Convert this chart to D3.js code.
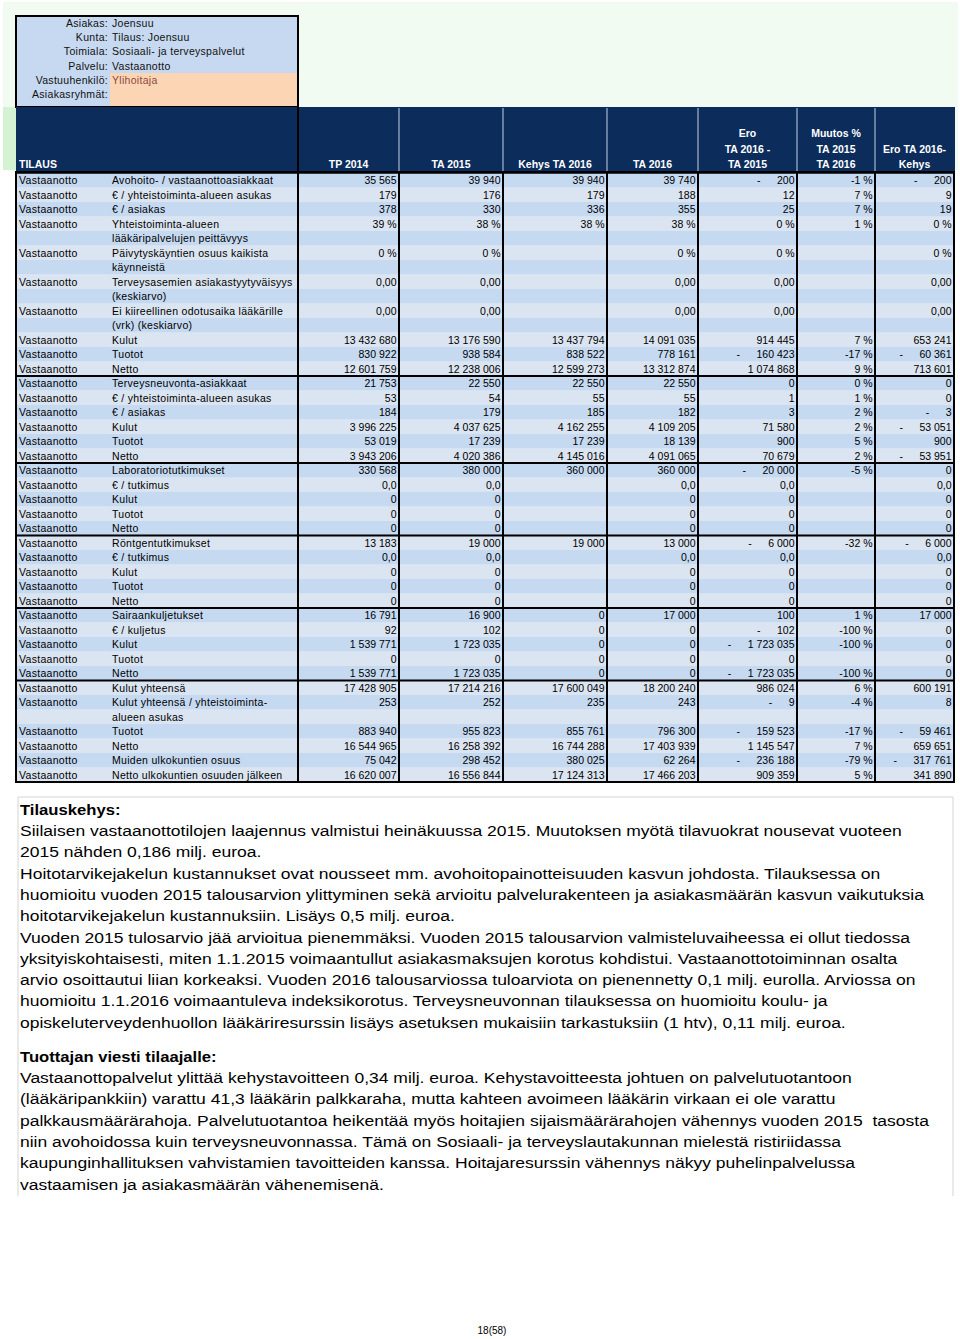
<!DOCTYPE html>
<html><head><meta charset="utf-8">
<script src="https://cdn.jsdelivr.net/npm/d3@7"></script>
<style>
body{margin:0;background:#fff}
svg{display:block}
text{font-family:"Liberation Sans",Arial,Helvetica,sans-serif}
</style>
</head><body>
<svg id="c" width="960" height="1339"></svg>
<script>
// ---------------- DATA ----------------
const infoLabels = ["Asiakas:","Kunta:","Toimiala:","Palvelu:","Vastuuhenkilö:","Asiakasryhmät:"];
const infoValues = ["Joensuu","Tilaus: Joensuu","Sosiaali- ja terveyspalvelut","Vastaanotto","Ylihoitaja",""];

const firstHeader = "TILAUS";
const headerLabels = [["TP 2014"],["TA 2015"],["Kehys TA 2016"],["TA 2016"],
  ["Ero","TA 2016 -","TA 2015"],["Muutos %","TA 2015","TA 2016"],["Ero TA 2016-","Kehys"]];

const unitName = "Vastaanotto";
const categories = [
  ["Avohoito- / vastaanottoasiakkaat"],["€ / yhteistoiminta-alueen asukas"],["€ / asiakas"],
  ["Yhteistoiminta-alueen","lääkäripalvelujen peittävyys"],
  ["Päivytyskäyntien osuus kaikista","käynneistä"],
  ["Terveysasemien asiakastyytyväisyys","(keskiarvo)"],
  ["Ei kiireellinen odotusaika lääkärille","(vrk) (keskiarvo)"],
  ["Kulut"],["Tuotot"],["Netto"],
  ["Terveysneuvonta-asiakkaat"],["€ / yhteistoiminta-alueen asukas"],["€ / asiakas"],["Kulut"],["Tuotot"],["Netto"],
  ["Laboratoriotutkimukset"],["€ / tutkimus"],["Kulut"],["Tuotot"],["Netto"],
  ["Röntgentutkimukset"],["€ / tutkimus"],["Kulut"],["Tuotot"],["Netto"],
  ["Sairaankuljetukset"],["€ / kuljetus"],["Kulut"],["Tuotot"],["Netto"],
  ["Kulut yhteensä"],["Kulut yhteensä / yhteistoiminta-","alueen asukas"],["Tuotot"],["Netto"],
  ["Muiden ulkokuntien osuus"],["Netto ulkokuntien osuuden jälkeen"]
];
const groupStarts = [0,10,16,21,26,31];

const tp2014 = ["35 565","179","378","39 %","0 %","0,00","0,00","13 432 680","830 922","12 601 759",
  "21 753","53","184","3 996 225","53 019","3 943 206",
  "330 568","0,0","0","0","0",
  "13 183","0,0","0","0","0",
  "16 791","92","1 539 771","0","1 539 771",
  "17 428 905","253","883 940","16 544 965","75 042","16 620 007"];
const ta2015 = ["39 940","176","330","38 %","0 %","0,00","0,00","13 176 590","938 584","12 238 006",
  "22 550","54","179","4 037 625","17 239","4 020 386",
  "380 000","0,0","0","0","0",
  "19 000","0,0","0","0","0",
  "16 900","102","1 723 035","0","1 723 035",
  "17 214 216","252","955 823","16 258 392","298 452","16 556 844"];
const kehys2016 = ["39 940","179","336","38 %","","","","13 437 794","838 522","12 599 273",
  "22 550","55","185","4 162 255","17 239","4 145 016",
  "360 000","","","","",
  "19 000","","","","",
  "0","0","0","0","0",
  "17 600 049","235","855 761","16 744 288","380 025","17 124 313"];
const ta2016 = ["39 740","188","355","38 %","0 %","0,00","0,00","14 091 035","778 161","13 312 874",
  "22 550","55","182","4 109 205","18 139","4 091 065",
  "360 000","0,0","0","0","0",
  "13 000","0,0","0","0","0",
  "17 000","0","0","0","0",
  "18 200 240","243","796 300","17 403 939","62 264","17 466 203"];
const ero = ["- 200","12","25","0 %","0 %","0,00","0,00","914 445","- 160 423","1 074 868",
  "0","1","3","71 580","900","70 679",
  "- 20 000","0,0","0","0","0",
  "- 6 000","0,0","0","0","0",
  "100","- 102","- 1 723 035","0","- 1 723 035",
  "986 024","- 9","- 159 523","1 145 547","- 236 188","909 359"];
const muutos = ["-1 %","7 %","7 %","1 %","","","","7 %","-17 %","9 %",
  "0 %","1 %","2 %","2 %","5 %","2 %",
  "-5 %","","","","",
  "-32 %","","","","",
  "1 %","-100 %","-100 %","","-100 %",
  "6 %","-4 %","-17 %","7 %","-79 %","5 %"];
const eroKehys = ["- 200","9","19","0 %","0 %","0,00","0,00","653 241","- 60 361","713 601",
  "0","0","- 3","- 53 051","900","- 53 951",
  "0","0,0","0","0","0",
  "- 6 000","0,0","0","0","0",
  "17 000","0","0","0","0",
  "600 191","8","- 59 461","659 651","- 317 761","341 890"];
const valueColumns = [tp2014, ta2015, kehys2016, ta2016, ero, muutos, eroKehys];

const heading1 = "Tilauskehys:";
const text1 = [
  "Siilaisen vastaanottotilojen laajennus valmistui heinäkuussa 2015. Muutoksen myötä tilavuokrat nousevat vuoteen",
  "2015 nähden 0,186 milj. euroa.",
  "Hoitotarvikejakelun kustannukset ovat nousseet mm. avohoitopainotteisuuden kasvun johdosta. Tilauksessa on",
  "huomioitu vuoden 2015 talousarvion ylittyminen sekä arvioitu palvelurakenteen ja asiakasmäärän kasvun vaikutuksia",
  "hoitotarvikejakelun kustannuksiin. Lisäys 0,5 milj. euroa.",
  "Vuoden 2015 tulosarvio jää arvioitua pienemmäksi. Vuoden 2015 talousarvion valmisteluvaiheessa ei ollut tiedossa",
  "yksityiskohtaisesti, miten 1.1.2015 voimaantullut asiakasmaksujen korotus kohdistui. Vastaanottotoiminnan osalta",
  "arvio osoittautui liian korkeaksi. Vuoden 2016 talousarviossa tuloarviota on pienennetty 0,1 milj. eurolla. Arviossa on",
  "huomioitu 1.1.2016 voimaantuleva indeksikorotus. Terveysneuvonnan tilauksessa on huomioitu koulu- ja",
  "opiskeluterveydenhuollon lääkäriresurssin lisäys asetuksen mukaisiin tarkastuksiin (1 htv), 0,11 milj. euroa."
];
const heading2 = "Tuottajan viesti tilaajalle:";
const text2 = [
  "Vastaanottopalvelut ylittää kehystavoitteen 0,34 milj. euroa. Kehystavoitteesta johtuen on palvelutuotantoon",
  "(lääkäripankkiin) varattu 41,3 lääkärin palkkaraha, mutta kahteen avoimeen lääkärin virkaan ei ole varattu",
  "palkkausmäärärahoja. Palvelutuotantoa heikentää myös hoitajien sijaismäärärahojen vähennys vuoden 2015  tasosta",
  "niin avohoidossa kuin terveysneuvonnassa. Tämä on Sosiaali- ja terveyslautakunnan mielestä ristiriidassa",
  "kaupunginhallituksen vahvistamien tavoitteiden kanssa. Hoitajaresurssin vähennys näkyy puhelinpalvelussa",
  "vastaamisen ja asiakasmäärän vähenemisenä."
];
const pageLabel = "18(58)";

// ---------------- LAYOUT ----------------
const svg = d3.select("#c");
const NAVY = "#0c2d5c", DARK = "#c5d9f1", LIGHT = "#dbe5f1";
const colEdges = [16, 110, 298, 399, 503, 607, 698, 797, 875, 954];
const tableTop = 173, lineH = 14.5;
const LS = "0.3px";

let lineStart = [], acc = 0;
categories.forEach(c => { lineStart.push(acc); acc += c.length; });
const totalLines = acc;
const y = d3.scaleLinear().domain([0, totalLines]).range([tableTop, tableTop + totalLines * lineH]);
const tableBottom = y(totalLines);

// background greens
svg.append("rect").attr("x",3).attr("y",2).attr("width",955).attr("height",168).attr("fill","#f2fbf2");
svg.append("rect").attr("x",3).attr("y",107).attr("width",14).attr("height",63).attr("fill","#d3f3d3");

// info box
svg.append("rect").attr("x",16).attr("y",16).attr("width",282).attr("height",91).attr("fill","#c6d9f0");
svg.append("rect").attr("x",110).attr("y",73).attr("width",187).attr("height",34).attr("fill","#fcd5b4");
const infoY = d3.scaleLinear().domain([0,1]).range([27, 41.2]);
svg.selectAll("text.il").data(infoLabels).join("text").attr("class","il")
  .attr("x",108).attr("y",(d,i)=>infoY(i)).attr("text-anchor","end")
  .attr("font-size",10.5).attr("letter-spacing",LS).attr("fill","#111").text(d=>d);
svg.selectAll("text.iv").data(infoValues).join("text").attr("class","iv")
  .attr("x",112).attr("y",(d,i)=>infoY(i)).attr("font-size",10.5).attr("letter-spacing",LS)
  .attr("fill",(d,i)=>i===4?"#8c4a3c":"#111").text(d=>d);
svg.append("rect").attr("x",16).attr("y",16).attr("width",282).attr("height",91)
  .attr("fill","none").attr("stroke","#000").attr("stroke-width",2);

// header
svg.append("rect").attr("x",16).attr("y",107).attr("width",939).attr("height",66).attr("fill",NAVY);
colEdges.slice(3,9).forEach(x => {
  svg.append("line").attr("x1",x).attr("x2",x).attr("y1",108).attr("y2",172)
    .attr("stroke","#aab6cc").attr("stroke-width",1.2);
});
svg.append("line").attr("x1",298).attr("x2",298).attr("y1",107).attr("y2",173).attr("stroke","#000").attr("stroke-width",2);
svg.append("text").attr("x",19).attr("y",168).attr("fill","#fff").attr("font-weight","bold")
  .attr("font-size",10.5).text(firstHeader);
headerLabels.forEach((lines,ci) => {
  const cx = (colEdges[ci+2] + colEdges[ci+3]) / 2;
  lines.forEach((t,li) => {
    svg.append("text").attr("x",cx).attr("y",168 - (lines.length-1-li)*15.5)
      .attr("text-anchor","middle").attr("fill","#fff").attr("font-weight","bold")
      .attr("font-size",10.5).text(t);
  });
});

// stripes
svg.selectAll("rect.stripe").data(d3.range(totalLines)).join("rect").attr("class","stripe")
  .attr("x",16).attr("width",938).attr("y",d=>y(d)).attr("height",d=>y(d+1)-y(d)+0.3)
  .attr("fill",d=>d%2===0?DARK:LIGHT);

// row texts
const fs = 10.5;
categories.forEach((lines, r) => {
  const base = y(lineStart[r]) + 11;
  svg.append("text").attr("x",19).attr("y",base).attr("font-size",fs).attr("letter-spacing",LS).attr("fill","#000").text(unitName);
  lines.forEach((t,li) => {
    svg.append("text").attr("x",112).attr("y",y(lineStart[r]+li)+11).attr("font-size",fs)
      .attr("letter-spacing",LS).attr("fill","#000").text(t);
  });
  valueColumns.forEach((col, ci) => {
    const v = col[r];
    if (!v) return;
    const right = colEdges[ci+3] - 2.5;
    if (v.startsWith("- ")) {
      const num = v.slice(2);
      const t = svg.append("text").attr("x",right).attr("y",base).attr("text-anchor","end")
        .attr("font-size",fs).attr("fill","#000").text(num);
      const w = t.node().getComputedTextLength();
      svg.append("text").attr("x",right - w - 20).attr("y",base).attr("font-size",fs).attr("fill","#000").text("-");
    } else {
      svg.append("text").attr("x",right).attr("y",base).attr("text-anchor","end")
        .attr("font-size",fs).attr("fill","#000").text(v);
    }
  });
});

// grid lines
colEdges.slice(2,9).forEach(x => {
  svg.append("line").attr("x1",x).attr("x2",x).attr("y1",tableTop).attr("y2",tableBottom)
    .attr("stroke","#000").attr("stroke-width",2);
});
groupStarts.slice(1).forEach(g => {
  const yy = y(lineStart[g]);
  svg.append("line").attr("x1",16).attr("x2",954).attr("y1",yy).attr("y2",yy)
    .attr("stroke","#000").attr("stroke-width",2);
});
svg.append("rect").attr("x",16).attr("y",tableTop-1).attr("width",938).attr("height",tableBottom-tableTop+1)
  .attr("fill","none").attr("stroke","#000").attr("stroke-width",2);
svg.append("line").attr("x1",16).attr("x2",955).attr("y1",173).attr("y2",173).attr("stroke","#000").attr("stroke-width",1.5);

// text box
const tb = svg.append("g");
tb.append("path").attr("d","M18,1196 V797 H953 V1196").attr("fill","none").attr("stroke","#d4d4d4").attr("stroke-width",1);
const pfs = 15.5;
const lines = [];
lines.push({t:heading1, bold:true, y:815});
text1.forEach((t,i)=>lines.push({t, bold:false, y:836 + i*21.3}));
lines.push({t:heading2, bold:true, y:1062});
text2.forEach((t,i)=>lines.push({t, bold:false, y:1083 + i*21.3}));
const nodes = lines.map(l => tb.append("text").attr("x",20).attr("y",l.y).attr("font-size",pfs)
  .attr("font-weight",l.bold?"bold":"normal").attr("fill","#000")
  .style("white-space","pre").text(l.t));
const refW = nodes[4].node().getComputedTextLength();
const k = 904 / refW;
nodes.forEach((n,i) => {
  const w = n.node().getComputedTextLength();
  const kk = lines[i].bold ? k * 0.95 : k;
  n.attr("textLength", w*kk).attr("lengthAdjust","spacingAndGlyphs");
});

svg.append("text").attr("x",492).attr("y",1334).attr("text-anchor","middle").attr("font-size",10)
  .attr("fill","#000").text(pageLabel);
</script>
</body></html>
